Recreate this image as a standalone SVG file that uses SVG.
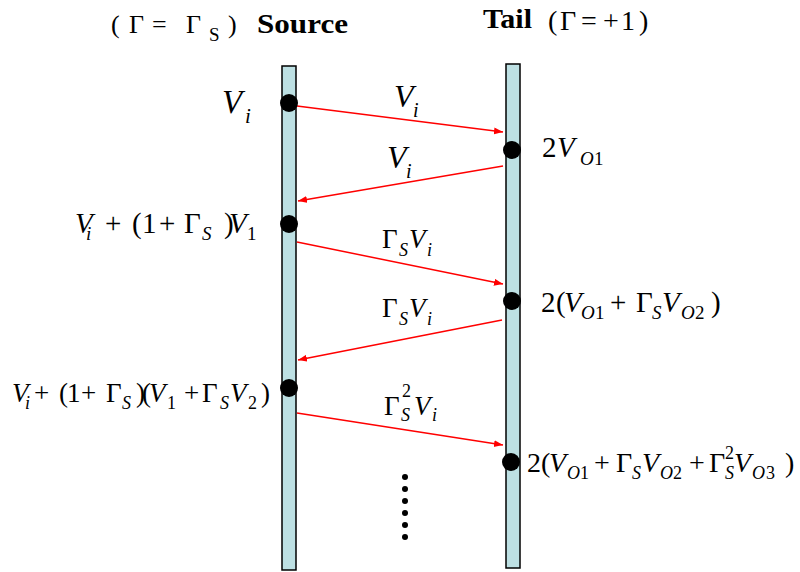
<svg xmlns="http://www.w3.org/2000/svg" width="800" height="572" viewBox="0 0 800 572">
<defs>
<marker id="ah" markerUnits="userSpaceOnUse" markerWidth="10" markerHeight="8" refX="9" refY="3.5" orient="auto">
<path d="M0,0 L9,3.5 L0,7 Z" fill="#ff0000"/>
</marker>
</defs>
<rect width="800" height="572" fill="#fff"/>

<g id="source-line">
<rect x="282" y="66" width="14" height="504" fill="#bde0e3" stroke="#000" stroke-width="1.5"/>
</g>
<g id="tail-line">
<rect x="506" y="64" width="14" height="504" fill="#bde0e3" stroke="#000" stroke-width="1.5"/>
</g>

<g id="connectors" stroke="#ff0000" stroke-width="1.5" fill="none" marker-end="url(#ah)">
<line x1="297" y1="106" x2="503" y2="132"/>
<line x1="503" y1="166" x2="298" y2="201"/>
<line x1="297" y1="242" x2="503" y2="284"/>
<line x1="502" y1="320" x2="298" y2="360"/>
<line x1="297" y1="413" x2="503" y2="445"/>
</g>

<g id="header-source">
<text font-family="Liberation Serif" font-size="26" y="33"><tspan x="111">(</tspan><tspan x="129">Γ</tspan><tspan x="152">=</tspan><tspan x="186">Γ</tspan><tspan x="209" y="41" font-size="19">S</tspan><tspan x="228" y="33">)</tspan></text>
<text font-family="Liberation Serif" x="257" y="33" font-size="28" font-weight="bold" textLength="91" lengthAdjust="spacingAndGlyphs">Source</text>
</g>
<g id="header-tail">
<text font-family="Liberation Serif" x="483" y="28" font-size="28" font-weight="bold" textLength="49" lengthAdjust="spacingAndGlyphs">Tail</text>
<text font-family="Liberation Serif" font-size="28" y="30"><tspan x="548">(</tspan><tspan x="560">Γ</tspan><tspan x="581">=</tspan><tspan x="603">+</tspan><tspan x="621">1</tspan><tspan x="639">)</tspan></text>
</g>

<g id="s1">
<circle cx="289" cy="103" r="9"/>
<text font-family="Liberation Serif" font-style="italic" font-size="33" x="222" y="113">V</text>
<text font-family="Liberation Serif" font-style="italic" font-size="21" x="245" y="123">i</text>
</g>
<g id="t1">
<circle cx="512" cy="150" r="9"/>
<text font-family="Liberation Serif" font-size="29" y="157"><tspan x="542">2</tspan><tspan font-style="italic" x="557">V</tspan><tspan font-style="italic" font-size="19" x="580" y="165">O</tspan><tspan font-size="19" x="594" y="165">1</tspan></text>
</g>
<g id="s2">
<circle cx="289" cy="224" r="9"/>
<text font-family="Liberation Serif" font-size="29" y="233"><tspan font-style="italic" x="75">V</tspan><tspan font-style="italic" font-size="19" x="86" y="240">i</tspan><tspan x="105" y="233">+</tspan><tspan x="132">(</tspan><tspan x="142">1</tspan><tspan x="159">+</tspan><tspan x="184">Γ</tspan><tspan font-style="italic" font-size="19" x="202" y="240">S</tspan><tspan x="224" y="233">)</tspan><tspan font-style="italic" x="229">V</tspan><tspan font-size="19" x="247" y="240">1</tspan></text>
</g>
<g id="t2">
<circle cx="512" cy="301" r="9"/>
<text font-family="Liberation Serif" font-size="29" y="312"><tspan x="541">2</tspan><tspan x="556">(</tspan><tspan font-style="italic" x="564">V</tspan><tspan font-style="italic" font-size="19" x="581" y="319">O</tspan><tspan font-size="19" x="595" y="319">1</tspan><tspan x="610" y="312">+</tspan><tspan x="636">Γ</tspan><tspan font-style="italic" font-size="19" x="652" y="319">S</tspan><tspan font-style="italic" x="662" y="312">V</tspan><tspan font-style="italic" font-size="19" x="681" y="319">O</tspan><tspan font-size="19" x="695" y="319">2</tspan><tspan x="711" y="312">)</tspan></text>
</g>
<g id="s3">
<circle cx="289" cy="388" r="9"/>
<text font-family="Liberation Serif" font-size="27" y="402"><tspan font-style="italic" x="12">V</tspan><tspan font-style="italic" font-size="18" x="25" y="409">i</tspan><tspan x="34" y="402">+</tspan><tspan x="59">(</tspan><tspan x="67">1</tspan><tspan x="81">+</tspan><tspan x="106">Γ</tspan><tspan font-style="italic" font-size="18" x="122" y="409">S</tspan><tspan x="136" y="402">)</tspan><tspan x="142">(</tspan><tspan font-style="italic" x="149">V</tspan><tspan font-size="18" x="167" y="409">1</tspan><tspan x="184" y="402">+</tspan><tspan x="202">Γ</tspan><tspan font-style="italic" font-size="18" x="220" y="409">S</tspan><tspan font-style="italic" x="230" y="402">V</tspan><tspan font-size="18" x="248" y="409">2</tspan><tspan x="261" y="402">)</tspan></text>
</g>
<g id="t3">
<circle cx="511" cy="462" r="9"/>
<text font-family="Liberation Serif" font-size="28" y="472"><tspan x="527">2</tspan><tspan x="541">(</tspan><tspan font-style="italic" x="549">V</tspan><tspan font-style="italic" font-size="18" x="567" y="479">O</tspan><tspan font-size="18" x="580" y="479">1</tspan><tspan x="594" y="472">+</tspan><tspan x="616">Γ</tspan><tspan font-style="italic" font-size="18" x="632" y="479">S</tspan><tspan font-style="italic" x="642" y="472">V</tspan><tspan font-style="italic" font-size="18" x="660" y="479">O</tspan><tspan font-size="18" x="673" y="479">2</tspan><tspan x="689" y="472">+</tspan><tspan x="709">Γ</tspan><tspan font-size="18" x="725" y="459">2</tspan><tspan font-style="italic" font-size="18" x="725" y="479">S</tspan><tspan font-style="italic" x="734" y="472">V</tspan><tspan font-style="italic" font-size="18" x="752" y="479">O</tspan><tspan font-size="18" x="766" y="479">3</tspan><tspan x="785" y="472">)</tspan></text>
</g>

<g id="label-a1">
<text font-family="Liberation Serif" font-style="italic" font-size="32" x="394" y="107">V</text>
<text font-family="Liberation Serif" font-style="italic" font-size="20" x="413" y="117">i</text>
</g>
<g id="label-a2">
<text font-family="Liberation Serif" font-style="italic" font-size="32" x="387" y="168">V</text>
<text font-family="Liberation Serif" font-style="italic" font-size="20" x="406" y="178">i</text>
</g>
<g id="label-a3">
<text font-family="Liberation Serif" font-size="27" y="248"><tspan x="382">Γ</tspan><tspan font-style="italic" font-size="18" x="399" y="256">S</tspan><tspan font-style="italic" x="409" y="248">V</tspan><tspan font-style="italic" font-size="18" x="427" y="256">i</tspan></text>
</g>
<g id="label-a4">
<text font-family="Liberation Serif" font-size="27" y="317"><tspan x="382">Γ</tspan><tspan font-style="italic" font-size="18" x="399" y="325">S</tspan><tspan font-style="italic" x="409" y="317">V</tspan><tspan font-style="italic" font-size="18" x="427" y="325">i</tspan></text>
</g>
<g id="label-a5">
<text font-family="Liberation Serif" font-size="27" y="415"><tspan x="384">Γ</tspan><tspan font-size="18" x="402" y="397">2</tspan><tspan font-style="italic" font-size="18" x="401" y="421">S</tspan><tspan font-style="italic" x="414" y="415">V</tspan><tspan font-style="italic" font-size="18" x="432" y="421">i</tspan></text>
</g>

<g id="ellipsis">
<circle cx="405" cy="477" r="3"/>
<circle cx="405" cy="489" r="3"/>
<circle cx="405" cy="501" r="3"/>
<circle cx="405" cy="513" r="3"/>
<circle cx="405" cy="525" r="3"/>
<circle cx="405" cy="537" r="3"/>
</g>
</svg>
